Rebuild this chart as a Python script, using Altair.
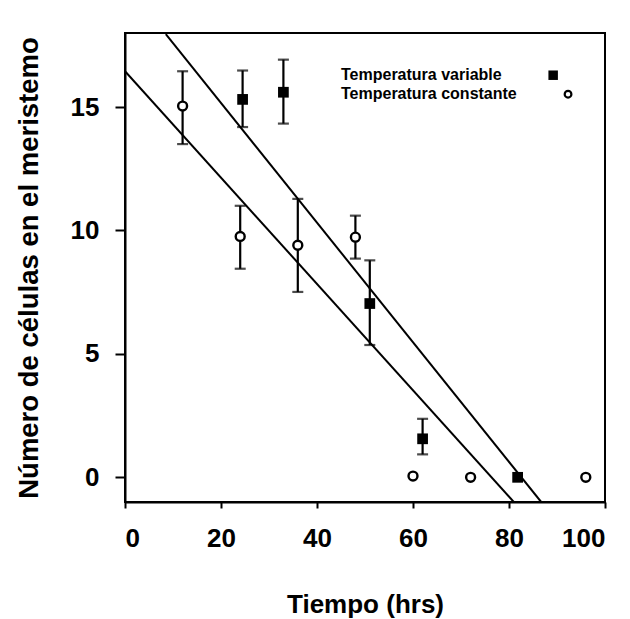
import altair as alt
import pandas as pd

# Temperatura constante (open markers)
const_x = [12, 24, 36, 48, 60, 72, 96]
const_y = [15.04, 9.76, 9.4, 9.73, 0.05, 0.0, 0.0]
const_lo = [13.5, 8.45, 7.51, 8.86, None, None, None]
const_hi = [16.45, 11.0, 11.28, 10.6, None, None, None]

# Temperatura variable (filled squares)
var_x = [24.5, 33, 51, 62, 81.8]
var_y = [15.31, 15.6, 7.04, 1.56, 0.0]
var_lo = [14.19, 14.33, 5.36, 0.93, None]
var_hi = [16.48, 16.92, 8.79, 2.37, None]

# Regression lines (endpoints)
line_names = ["constante", "constante", "variable", "variable"]
line_x = [0, 81.0, 8.5, 86.7]
line_y = [16.45, -1.0, 17.95, -1.0]

legend_labels = ["Temperatura variable", "Temperatura constante"]
legend_text_x = [45.0, 45.0]
legend_y = [16.29, 15.52]
legend_sym_x = [89.2, 92.3]

x_ticks = [0, 20, 40, 60, 80, 100]
y_ticks = [0, 5, 10, 15]

const_df = pd.DataFrame({"x": const_x, "y": const_y, "lo": const_lo, "hi": const_hi})
var_df = pd.DataFrame({"x": var_x, "y": var_y, "lo": var_lo, "hi": var_hi})
const_err = const_df.dropna()
var_err = var_df.dropna()
err_df = pd.concat([const_err, var_err], ignore_index=True)
lines_df = pd.DataFrame({"serie": line_names, "x": line_x, "y": line_y})
leg_df = pd.DataFrame({"label": legend_labels, "tx": legend_text_x, "y": legend_y, "sx": legend_sym_x})

FONT = "Liberation Sans"

xscale = alt.Scale(domain=[0, 100], nice=False, zero=False)
yscale = alt.Scale(domain=[-1, 18], nice=False, zero=False)

xaxis = alt.Axis(values=x_ticks, title="Tiempo (hrs)", grid=False, tickSize=6,
                 labelPadding=17, titlePadding=40, format="d")
yaxis = alt.Axis(values=y_ticks, title="Número de células en el meristemo", grid=False,
                 tickSize=10, labelPadding=16, titlePadding=27, titleFontSize=27.5, format="d")


def X(field):
    return alt.X(f"{field}:Q", scale=xscale, axis=xaxis)


def Y(field):
    return alt.Y(f"{field}:Q", scale=yscale, axis=yaxis)


lines = alt.Chart(lines_df).mark_line(color="black", strokeWidth=2, clip=True).encode(
    x=X("x"), y=Y("y"), detail="serie:N"
)

err_rules = alt.Chart(err_df).mark_rule(color="black", strokeWidth=2.2).encode(
    x=X("x"), y=Y("lo"), y2="hi:Q"
)
cap_lo = alt.Chart(err_df).mark_tick(color="black", orient="horizontal", size=11, thickness=2.2).encode(
    x=X("x"), y=Y("lo")
)
cap_hi = alt.Chart(err_df).mark_tick(color="black", orient="horizontal", size=11, thickness=2.2).encode(
    x=X("x"), y=Y("hi")
)

var_pts = alt.Chart(var_df).mark_point(shape="square", filled=True, color="black", size=115, opacity=1).encode(
    x=X("x"), y=Y("y")
)
const_pts = alt.Chart(const_df).mark_point(shape="circle", filled=True, fill="white", stroke="black",
                                             strokeWidth=2.4, size=80, opacity=1).encode(
    x=X("x"), y=Y("y")
)

leg_text = alt.Chart(leg_df).mark_text(align="left", baseline="middle", font=FONT, fontSize=16,
                                        fontWeight="bold", color="black").encode(
    x=X("tx"), y=Y("y"), text="label:N"
)
leg_sq = alt.Chart(leg_df.iloc[[0]]).mark_point(shape="square", filled=True, color="black", size=90,
                                                 opacity=1).encode(x=X("sx"), y=Y("y"))
leg_ci = alt.Chart(leg_df.iloc[[1]]).mark_point(shape="circle", filled=True, fill="white", stroke="black",
                                                 strokeWidth=2.2, size=45, opacity=1).encode(x=X("sx"), y=Y("y"))

chart = alt.layer(lines, err_rules, cap_lo, cap_hi, var_pts, const_pts, leg_text, leg_sq, leg_ci).properties(
    width=480, height=469,
    autosize=alt.AutoSizeParams(type="none"),
    padding={"left": 125, "top": 33, "right": 25, "bottom": 117},
    background="white",
).configure_view(
    stroke="black", strokeWidth=2
).configure_axis(
    domainColor="black", domainWidth=2, tickColor="black", tickWidth=2,
    labelFont=FONT, labelFontSize=26, labelFontWeight="bold", labelColor="black",
    titleFont=FONT, titleFontSize=26, titleFontWeight="bold", titleColor="black",
)

chart.save("out.html", embed_options={"renderer": "svg", "actions": False})
